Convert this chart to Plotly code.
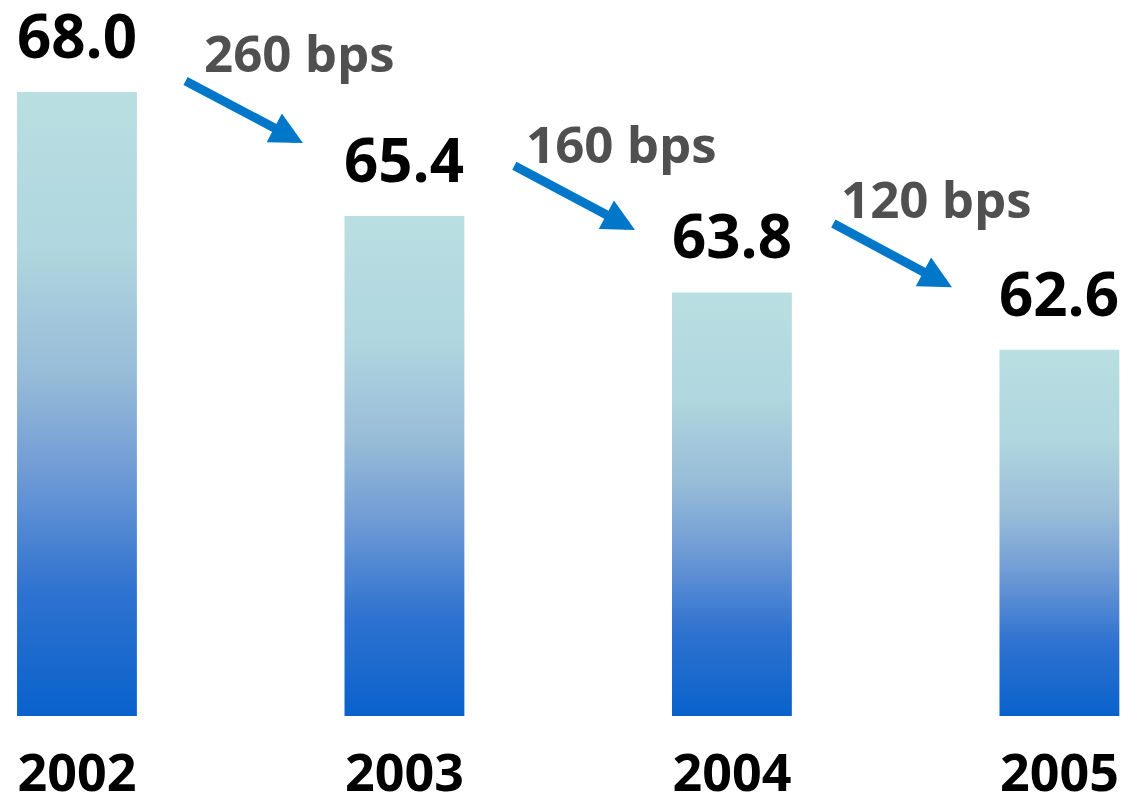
import plotly.graph_objects as go

# Data
years = ["2002", "2003", "2004", "2005"]
values = [68.0, 65.4, 63.8, 62.6]

# Layout constants
base = 54.92          # value axis starts here (bars are truncated)
half_w = 0.183        # half bar width in category units
gradient = [
    [0.0, "#0962cc"],
    [0.2, "#2f72d0"],
    [0.4, "#729dd5"],
    [0.55, "#97bcd8"],
    [0.75, "#b0d6df"],
    [1.0, "#b9dfe2"],
]
arrow_color = "#0077c8"
font_family = "Open Sans"

# Arrow geometry relative to the two bars it connects
arrow_tail_dx = [0.327, 0.331, 0.305]
arrow_tail_dy = [0.25, 1.07, 1.46]        # above the left bar's value
arrow_tip_dx = [0.69, 0.704, 0.672]       # from left bar centre
arrow_tip_dy = [1.53, 1.31, 1.31]         # above the right bar's value
label_dx = [0.681, 0.664, 0.626]
label_dy = [1.91, 1.82, 1.87]             # above the right bar's arrow tip

fig = go.Figure()

for i, v in enumerate(values):
    xs = [i - half_w, i + half_w, i + half_w, i - half_w, i - half_w]
    ys = [base, base, v, v, base]
    fig.add_trace(go.Scatter(
        x=xs, y=ys, mode="lines", fill="toself",
        line=dict(width=0, color="rgba(0,0,0,0)"),
        fillgradient=dict(type="vertical", colorscale=gradient),
        hoverinfo="skip", showlegend=False,
    ))
    fig.add_annotation(
        x=i, y=v, text=f"{v:.1f}", showarrow=False,
        xanchor="center", yanchor="bottom", yshift=14,
        font=dict(family=font_family, size=60, color="#000000", weight=700),
    )

for i in range(len(values) - 1):
    tail_x = i + arrow_tail_dx[i]
    tail_y = values[i] + arrow_tail_dy[i]
    tip_x = i + arrow_tip_dx[i]
    tip_y = values[i + 1] + arrow_tip_dy[i]
    fig.add_annotation(
        x=tip_x, y=tip_y, ax=tail_x, ay=tail_y,
        xref="x", yref="y", axref="x", ayref="y",
        showarrow=True, arrowhead=2, arrowsize=0.72, arrowwidth=9,
        arrowcolor=arrow_color, text="",
    )
    drop = round((values[i] - values[i + 1]) * 100)
    fig.add_annotation(
        x=i + label_dx[i], y=tip_y + label_dy[i],
        text=f"{drop} bps", showarrow=False,
        xanchor="center", yanchor="middle",
        font=dict(family=font_family, size=51, color="#505050", weight=700),
    )

fig.update_xaxes(
    range=[-0.235, 3.24], tickvals=list(range(len(years))), ticktext=years,
    showgrid=False, zeroline=False, showline=False, ticks="",
    ticklabelstandoff=22, automargin=False,
    tickfont=dict(family=font_family, size=52, color="#000000", weight=700),
)
fig.update_yaxes(
    range=[base, 69.93], visible=False, showgrid=False, zeroline=False,
)
fig.update_layout(
    width=1138, height=796,
    margin=dict(l=0, r=0, t=0, b=80),
    plot_bgcolor="white", paper_bgcolor="white",
)

fig.write_html("out.html")
